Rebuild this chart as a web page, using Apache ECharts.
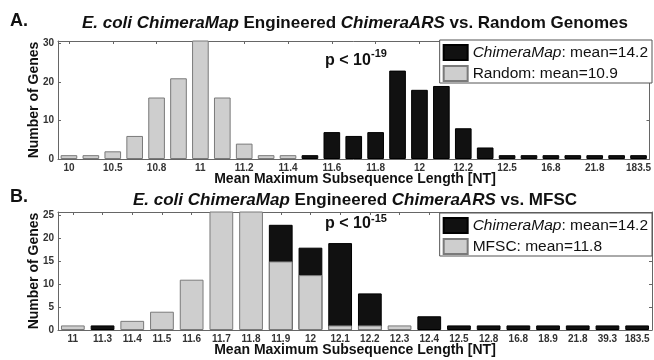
<!DOCTYPE html>
<html><head><meta charset="utf-8">
<script src="https://cdn.jsdelivr.net/npm/echarts@6/dist/echarts.min.js"></script>
<style>html,body{margin:0;padding:0;background:#fff}#c{width:654px;height:360px}</style>
</head><body><div id="c"></div>
<script>
// ---- Panel A data ----
const catsA = ['10','10.3','10.5','10.7','10.8','10.9','11','11.1','11.2','11.3','11.4','11.5','11.6','11.7','11.8','11.9','12','12.1','12.2','12.4','12.5','12.8','16.8','18.9','21.8','39.3','183.5'];
const randomA = [1,1,2,6,16,21,31,16,4,1,1,null,null,null,null,null,null,null,null,null,null,null,null,null,null,null,null];
const chimeraA = [null,null,null,null,null,null,null,null,null,null,null,1,7,6,7,23,18,19,8,3,1,1,1,1,1,1,1];
// ---- Panel B data ----
const catsB = ['11','11.3','11.4','11.5','11.6','11.7','11.8','11.9','12','12.1','12.2','12.3','12.4','12.5','12.8','16.8','18.9','21.8','39.3','183.5'];
const mfscB = [1,null,2,4,11,26,26,15,12,1,1,1,null,null,null,null,null,null,null,null];
const chimeraB = [null,1,null,null,null,null,null,23,18,19,8,null,3,1,1,1,1,1,1,1];
// ---- axis ticks ----
const yMaxA = 30.7, yStepA = 10;
const yMaxB = 25.8, yStepB = 5;
const meanChimera = '14.2', meanRandom = '10.9', meanMFSC = '11.8';
const pA = '-19', pB = '-15';

const FONT = 'Liberation Sans, Arial, sans-serif';
const NARROW = 'Liberation Sans Narrow, Liberation Sans, Arial, sans-serif';
const AX = '#666';

function xAx(grid, cats, interval, pos) {
  return {
    type: 'category', gridIndex: grid, data: cats, position: pos,
    axisLine: { show: true, onZero: false, lineStyle: { color: AX, width: 1 } },
    axisTick: { show: true, inside: true, length: 3, alignWithLabel: true, interval: interval, lineStyle: { color: AX } },
    axisLabel: { show: pos === 'bottom', interval: interval, fontSize: 10, fontWeight: 'bold', fontFamily: NARROW, color: '#333', margin: 4 },
    splitLine: { show: false }
  };
}
function yAx(grid, max, step, pos) {
  return {
    type: 'value', gridIndex: grid, min: 0, max: max, interval: step, position: pos,
    axisLine: { show: true, lineStyle: { color: AX, width: 1 } },
    axisTick: { show: true, inside: true, length: 3, lineStyle: { color: AX } },
    axisLabel: { show: pos === 'left', fontSize: 10, fontWeight: 'bold', fontFamily: NARROW, color: '#333', margin: 4,
      formatter: v => (Math.abs(v / step - Math.round(v / step)) < 1e-6 ? String(v) : '') },
    splitLine: { show: false }
  };
}
const blackStyle = { color: '#111111', borderColor: '#000', borderWidth: 1 };
const grayStyle = { color: '#cecece', borderColor: '#7a7a7a', borderWidth: 1 };
function legend(top, names, fmt) {
  return {
    orient: 'vertical', right: 2, top: top, data: names,
    icon: 'rect', itemWidth: 24, itemHeight: 15, itemGap: 4,
    borderColor: '#555', borderWidth: 1, padding: [4, 4, 1, 3],
    backgroundColor: '#fff',
    formatter: fmt,
    textStyle: { fontSize: 15.5, fontFamily: FONT, color: '#111', lineHeight: 16,
      rich: { i: { fontStyle: 'italic', fontSize: 15.5, fontFamily: FONT, color: '#111' } } },
    selectedMode: false
  };
}
function txt(x, y, text, size, opts, extra) {
  return Object.assign({ type: 'text', x: x, y: y, silent: true,
    style: Object.assign({ text: text, fontSize: size, fontWeight: 'bold', fontFamily: FONT, fill: '#111',
      align: 'left', verticalAlign: 'middle' }, opts || {}) }, extra || {});
}
const richI = { i: { fontStyle: 'italic', fontWeight: 'bold', fontSize: 17, fontFamily: FONT, fill: '#111' } };

const chart = echarts.init(document.getElementById('c'), null, { renderer: 'canvas' });
chart.setOption({
  animation: false,
  backgroundColor: '#fff',
  grid: [
    { left: 58, top: 41, width: 594, height: 118 },
    { left: 58, top: 212, width: 594, height: 118 }
  ],
  xAxis: [ xAx(0, catsA, 1, 'bottom'), xAx(0, catsA, 1, 'top'), xAx(1, catsB, 0, 'bottom'), xAx(1, catsB, 0, 'top') ],
  yAxis: [ yAx(0, yMaxA, yStepA, 'left'), yAx(0, yMaxA, yStepA, 'right'), yAx(1, yMaxB, yStepB, 'left'), yAx(1, yMaxB, yStepB, 'right') ],
  legend: [
    legend(40, ['ChimeraMap', 'Random'], n => n === 'ChimeraMap' ? '{i|ChimeraMap}: mean=' + meanChimera : 'Random: mean=' + meanRandom),
    legend(213, ['ChimeraMap', 'MFSC'], n => n === 'ChimeraMap' ? '{i|ChimeraMap}: mean=' + meanChimera : 'MFSC: mean=' + meanMFSC)
  ],
  series: [
    { type: 'bar', name: 'ChimeraMap', xAxisIndex: 0, yAxisIndex: 0, data: chimeraA, barWidth: '76%', barGap: '-100%', itemStyle: blackStyle, clip: true, z: 2 },
    { type: 'bar', name: 'Random', xAxisIndex: 0, yAxisIndex: 0, data: randomA, barWidth: '76%', barGap: '-100%', itemStyle: grayStyle, clip: true, z: 3 },
    { type: 'bar', name: 'ChimeraMap', xAxisIndex: 2, yAxisIndex: 2, data: chimeraB, barWidth: '80%', barGap: '-100%', itemStyle: blackStyle, clip: true, z: 2 },
    { type: 'bar', name: 'MFSC', xAxisIndex: 2, yAxisIndex: 2, data: mfscB, barWidth: '80%', barGap: '-100%', itemStyle: grayStyle, clip: true, z: 3 }
  ],
  graphic: [
    txt(10, 21.5, 'A.', 18),
    txt(355, 23.5, '{i|E. coli ChimeraMap} Engineered {i|ChimeraARS} vs. Random Genomes', 17, { align: 'center', rich: richI }),
    txt(10, 197.5, 'B.', 18),
    txt(355, 200.5, '{i|E. coli ChimeraMap} Engineered {i|ChimeraARS} vs. MFSC', 17, { align: 'center', rich: richI }),
    txt(34, 100, 'Number of Genes', 14, { align: 'center' }, { rotation: Math.PI / 2 }),
    txt(34, 271, 'Number of Genes', 14, { align: 'center' }, { rotation: Math.PI / 2 }),
    txt(355, 179, 'Mean Maximum Subsequence Length [NT]', 14, { align: 'center' }),
    txt(355, 350, 'Mean Maximum Subsequence Length [NT]', 14, { align: 'center' }),
    txt(325, 61, 'p < 10', 16),
    txt(371, 53.5, pA, 11),
    txt(325, 224, 'p < 10', 16),
    txt(371, 219, pB, 11)
  ]
});
</script>
</body></html>
